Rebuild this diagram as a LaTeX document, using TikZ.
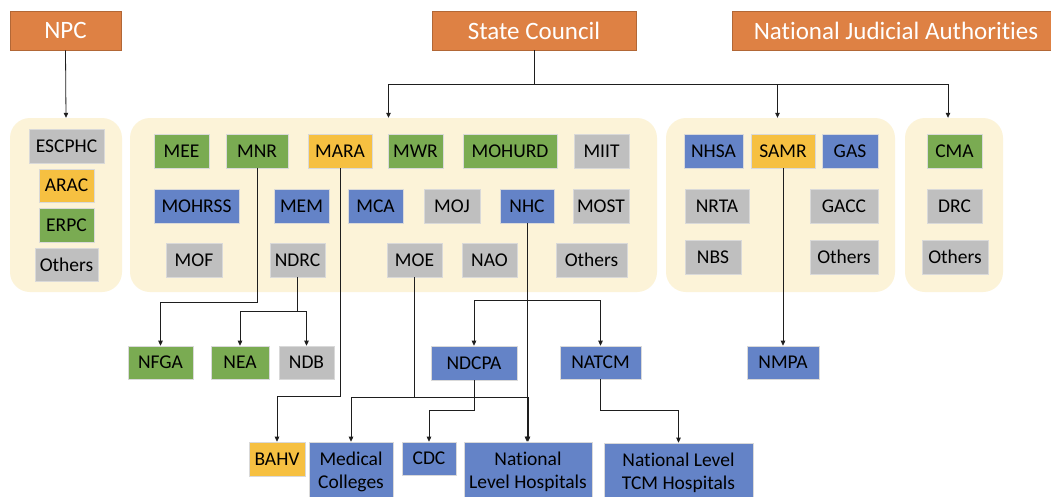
\documentclass[tikz,border=0pt]{standalone}
\usepackage{fontspec}
\setmainfont[Ligatures=NoCommon]{Carlito}
\usetikzlibrary{arrows.meta,calc}
\definecolor{orgC}{RGB}{222,129,68}
\definecolor{grnC}{RGB}{122,171,82}
\definecolor{bluC}{RGB}{100,131,199}
\definecolor{yelC}{RGB}{246,192,65}
\definecolor{gryC}{RGB}{191,191,191}
\definecolor{crmC}{RGB}{252,243,216}
\definecolor{lnC}{RGB}{30,30,30}
\tikzset{
  bbase/.style={inner sep=0pt, align=center, font=\fontsize{19.5}{23}\selectfont, text=black, draw=white!85!black, line width=0.6pt},
  gbox/.style={bbase, fill=grnC},
  bbox/.style={bbase, fill=bluC},
  ybox/.style={bbase, fill=yelC},
  hbox/.style={bbase, fill=gryC},
  obox/.style={inner sep=0pt, fill=orgC, draw=orgC!80!black, line width=0.6pt, text=white, font=\fontsize{25}{28}\selectfont},
  cont/.style={inner sep=0pt, fill=crmC, draw=none, rounded corners=20pt},
  arr/.style={draw=lnC, line width=0.8pt, -{Triangle[length=5pt,width=4.5pt]}},
  ln/.style={draw=lnC, line width=0.8pt}
}
\newcommand\bx[7]{\node[#2, minimum width={(#5)-(#3)}, minimum height={(#6)-(#4)}] (#1) at ({((#3)+(#5))/2},{-((#4)+(#6))/2}) {#7};}
\begin{document}
\begin{tikzpicture}[x=1pt,y=1pt]
\useasboundingbox[fill=white] (0,0) rectangle (1051,-496);
% containers
\bx{c1}{cont}{10}{118}{122}{292}{}
\bx{c2}{cont}{130}{118}{657}{292}{}
\bx{c3}{cont}{666}{118}{895}{292}{}
\bx{c4}{cont}{905}{118}{1003}{292}{}
% top
\bx{npc}{obox}{10}{11}{121}{50}{NPC}
\bx{sc}{obox}{432}{11}{636}{50}{State Council}
\bx{nja}{obox}{732}{11}{1060}{50}{National Judicial Authorities}
% left container
\bx{escphc}{hbox}{29}{129}{104}{163}{ESCPHC}
\bx{arac}{ybox}{39}{169}{94}{202}{ARAC}
\bx{erpc}{gbox}{39}{208}{94}{242}{ERPC}
\bx{oth1}{hbox}{35}{248}{98}{281}{Others}
% main container
\bx{mee}{gbox}{154}{134}{209}{168}{MEE}
\bx{mnr}{gbox}{226}{134}{288}{168}{MNR}
\bx{mara}{ybox}{308}{134}{372}{168}{MARA}
\bx{mwr}{gbox}{388}{134}{443}{168}{MWR}
\bx{mohurd}{gbox}{463}{134}{557}{168}{MOHURD}
\bx{miit}{hbox}{574}{134}{629}{168}{MIIT}
\bx{mohrss}{bbox}{154}{189}{239}{223}{MOHRSS}
\bx{mem}{bbox}{274}{189}{329}{223}{MEM}
\bx{mca}{bbox}{348}{189}{403}{223}{MCA}
\bx{moj}{hbox}{424}{189}{480}{223}{MOJ}
\bx{nhc}{bbox}{500}{189}{554}{223}{NHC}
\bx{most}{hbox}{573}{189}{629}{223}{MOST}
\bx{mof}{hbox}{166}{243}{222}{277}{MOF}
\bx{ndrc}{hbox}{270}{243}{325}{277}{NDRC}
\bx{moe}{hbox}{387}{243}{442}{277}{MOE}
\bx{nao}{hbox}{462}{243}{517}{277}{NAO}
\bx{oth2}{hbox}{556}{243}{627}{277}{Others}
% third container
\bx{nhsa}{bbox}{684}{134}{743}{168}{NHSA}
\bx{samr}{ybox}{751}{134}{815}{168}{SAMR}
\bx{gas}{bbox}{822}{134}{878}{168}{GAS}
\bx{nrta}{hbox}{685}{189}{749}{223}{NRTA}
\bx{gacc}{hbox}{810}{189}{878}{223}{GACC}
\bx{nbs}{hbox}{685}{240}{741}{274}{NBS}
\bx{oth3}{hbox}{810}{240}{878}{274}{Others}
% fourth container
\bx{cma}{gbox}{927}{134}{982}{168}{CMA}
\bx{drc}{hbox}{927}{189}{982}{223}{DRC}
\bx{oth4}{hbox}{922}{240}{988}{274}{Others}
% lower
\bx{nfga}{gbox}{128}{346}{193}{379}{NFGA}
\bx{nea}{gbox}{211}{346}{269}{379}{NEA}
\bx{ndb}{hbox}{279}{346}{334}{379}{NDB}
\bx{ndcpa}{bbox}{431}{346}{517}{380}{NDCPA}
\bx{natcm}{bbox}{560}{346}{641}{379}{NATCM}
\bx{nmpa}{bbox}{747}{346}{819}{379}{NMPA}
\bx{bahv}{ybox}{249}{442}{305}{476}{BAHV}
\bx{medc}{bbox}{309}{442}{393}{502}{Medical\\Colleges}
\bx{cdc}{bbox}{402}{442}{456}{475}{CDC}
\bx{nlh}{bbox}{464}{442}{592}{502}{National\\Level Hospitals}
\bx{tcm}{bbox}{604}{443}{753}{502}{National Level\\TCM Hospitals}
% level coordinates
\coordinate (y84) at (0,-84);
\coordinate (y300) at (0,-300);
\coordinate (y302) at (0,-302);
\coordinate (y311) at (0,-311);
\coordinate (y396) at (0,-396);
\coordinate (y397) at (0,-397);
\coordinate (y410) at (0,-410);
% connectors
\draw[arr] (npc.south) -- (c1.north);
\draw[ln] (sc.south) -- (sc.south |- y84);
\draw[arr] (sc.south |- y84) -| ([xshift=-5pt]c2.north);
\draw[arr] (sc.south |- y84) -| ([xshift=-3pt]c3.north);
\draw[arr] (sc.south |- y84) -| ([xshift=-6pt]c4.north);
\draw[arr] (mnr.south) -- (mnr.south |- y302) -| (nfga.north);
\draw[arr] (ndrc.south) -- (ndrc.south |- y311) -| (nea.north);
\draw[arr] (ndrc.south |- y311) -| (ndb.north);
\draw[arr] (mara.south) -- (mara.south |- y396) -| (bahv.north);
\draw[arr] (moe.south) -- (moe.south |- y397) -| (medc.north);
\draw[arr] (moe.south |- y397) -| (nlh.north);
\draw[arr] (nhc.south) -- (nhc.south |- nlh.north);
\draw[arr] (nhc.south |- y300) -| (ndcpa.north);
\draw[arr] (nhc.south |- y300) -| (natcm.north);
\draw[arr] (ndcpa.south) -- (ndcpa.south |- y410) -| (cdc.north);
\draw[arr] (natcm.south) -- (natcm.south |- y410) -| (tcm.north);
\draw[arr] (samr.south) -- (nmpa.north);
\end{tikzpicture}
\end{document}
